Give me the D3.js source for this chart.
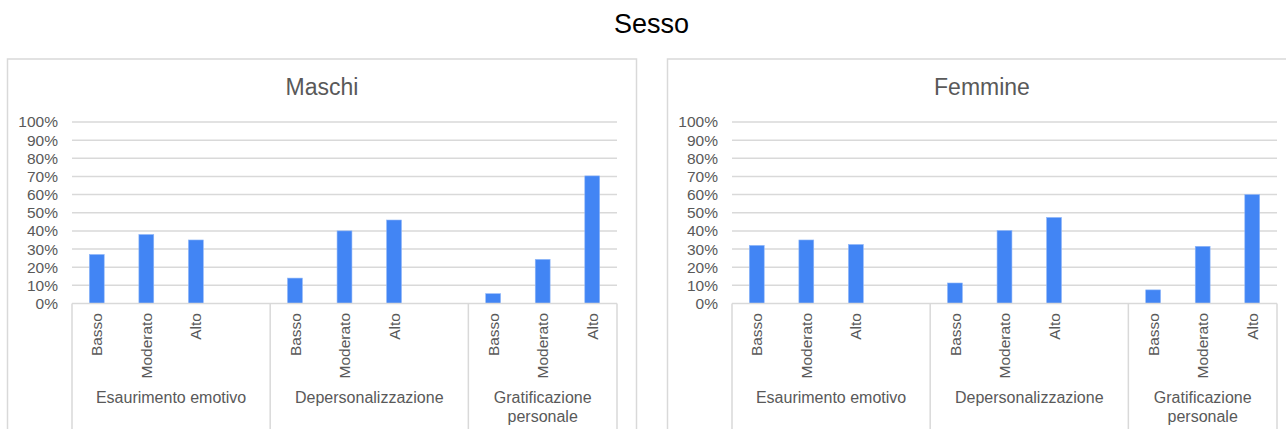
<!DOCTYPE html>
<html>
<head>
<meta charset="utf-8">
<script src="https://cdn.jsdelivr.net/npm/d3@7"></script>
<style>
  html, body { margin: 0; padding: 0; background: #fff; }
  svg { display: block; font-family: "Liberation Sans", Arial, sans-serif; }
</style>
</head>
<body>
<svg id="chart" width="1286" height="429"></svg>
<script>
// Burnout dimensions (groups) and levels within each dimension
const groups = ["Esaurimento emotivo", "Depersonalizzazione", "Gratificazione personale"];
const levels = ["Basso", "Moderato", "Alto"];
// empty category slots that follow each group on the axis
const blankSlots = [1, 1, 0];

// Share of respondents (%) per group × level
const maschi  = [[27, 38, 35], [14, 40, 46], [5.4, 24.3, 70.3]];
const femmine = [[32, 35, 32.5], [11.3, 40.2, 47.4], [7.5, 31.5, 60]];

const panelTitles = ["Maschi", "Femmine"];
const yTicks = [0, 10, 20, 30, 40, 50, 60, 70, 80, 90, 100];
const chartTitle = "Sesso";

const BAR = "#4285f4", GRID = "#d9d9d9", TEXT = "#595959";

const svg = d3.select("#chart");

svg.append("text")
  .attr("x", 651.5).attr("y", 33)
  .attr("text-anchor", "middle")
  .attr("font-size", 27)
  .attr("fill", "#000")
  .text(chartTitle);

// Build the ordered list of category slots (group, level) including blanks
const slots = [];
groups.forEach((g, gi) => {
  levels.forEach((l, li) => slots.push({ id: gi + "-" + li, group: gi, level: l, li }));
  for (let b = 0; b < blankSlots[gi]; b++) slots.push({ id: gi + "-b" + b, group: gi, level: "", li: -1 });
});

function drawPanel(offsetX, title, values) {
  const panelW = 629;
  const g = svg.append("g").attr("transform", `translate(${offsetX},0)`);

  // panel frame (runs off the bottom edge)
  g.append("rect")
    .attr("x", 7.5).attr("y", 59)
    .attr("width", panelW).attr("height", 400)
    .attr("fill", "#fff").attr("stroke", GRID).attr("stroke-width", 1.5);

  g.append("text")
    .attr("x", 322).attr("y", 95)
    .attr("text-anchor", "middle")
    .attr("font-size", 23)
    .attr("fill", TEXT)
    .text(title);

  const x0 = 72, x1 = 617, yTop = 122, yBot = 303.5;
  const x = d3.scaleBand().domain(slots.map(s => s.id)).range([x0, x1])
    .paddingInner(0.7).paddingOuter(0.35);
  const y = d3.scaleLinear().domain([0, 100]).range([yBot, yTop]);

  // horizontal gridlines
  g.append("g").selectAll("line").data(yTicks.filter(t => t > 0)).join("line")
    .attr("x1", x0).attr("x2", x1)
    .attr("y1", d => y(d)).attr("y2", d => y(d))
    .attr("stroke", GRID).attr("stroke-width", 1.5);

  // y axis labels
  const yAxis = d3.axisLeft(y).tickValues(yTicks).tickFormat(d => d + "%").tickSize(0).tickPadding(0);
  const ya = g.append("g").attr("transform", `translate(${x0 - 14},0)`).call(yAxis);
  ya.select(".domain").remove();
  ya.selectAll("text")
    .attr("font-size", 15.5).attr("fill", TEXT)
    .attr("font-family", "'Liberation Sans', Arial, sans-serif");

  // bars
  const flat = [];
  values.forEach((arr, gi) => arr.forEach((v, li) => flat.push({ id: gi + "-" + li, v })));
  g.append("g").selectAll("rect").data(flat).join("rect")
    .attr("x", d => x(d.id)).attr("width", x.bandwidth())
    .attr("y", d => y(d.v)).attr("height", d => y(0) - y(d.v))
    .attr("fill", BAR).attr("stroke", "#8fb6f8").attr("stroke-width", 0.6);

  // category axis baseline
  g.append("line")
    .attr("x1", x0).attr("x2", x1).attr("y1", yBot).attr("y2", yBot)
    .attr("stroke", GRID).attr("stroke-width", 1.5);

  // group boundaries extending below the axis
  const bounds = [x0];
  groups.forEach((gr, gi) => {
    const ids = slots.filter(s => s.group === gi).map(s => s.id);
    bounds.push(x(ids[ids.length - 1]) + x.bandwidth() + x.step() * 0.35);
  });
  g.append("g").selectAll("line").data(bounds).join("line")
    .attr("x1", d => d).attr("x2", d => d)
    .attr("y1", yBot).attr("y2", 440)
    .attr("stroke", GRID).attr("stroke-width", 1.5);

  // rotated level labels
  g.append("g").selectAll("text").data(slots.filter(s => s.level)).join("text")
    .attr("transform", d => `translate(${x(d.id) + x.bandwidth() / 2},313) rotate(-90)`)
    .attr("text-anchor", "end")
    .attr("dy", "0.36em")
    .attr("font-size", 15.5)
    .attr("fill", TEXT)
    .text(d => d.level);

  // group labels (wrapped when wider than the group)
  groups.forEach((gr, gi) => {
    const cx = (bounds[gi] + bounds[gi + 1]) / 2;
    const width = bounds[gi + 1] - bounds[gi];
    const t = g.append("text")
      .attr("x", cx).attr("y", 403)
      .attr("text-anchor", "middle")
      .attr("font-size", 16)
      .attr("fill", TEXT);
    const words = gr.split(" ");
    const lines = [];
    let cur = "";
    words.forEach(w => {
      const test = cur ? cur + " " + w : w;
      if (test.length * 8 > width - 10 && cur) { lines.push(cur); cur = w; }
      else cur = test;
    });
    lines.push(cur);
    lines.forEach((ln, i) => {
      t.append("tspan").attr("x", cx).attr("dy", i === 0 ? 0 : 18.5).text(ln);
    });
  });
}

drawPanel(0, panelTitles[0], maschi);
drawPanel(660, panelTitles[1], femmine);
</script>
</body>
</html>
